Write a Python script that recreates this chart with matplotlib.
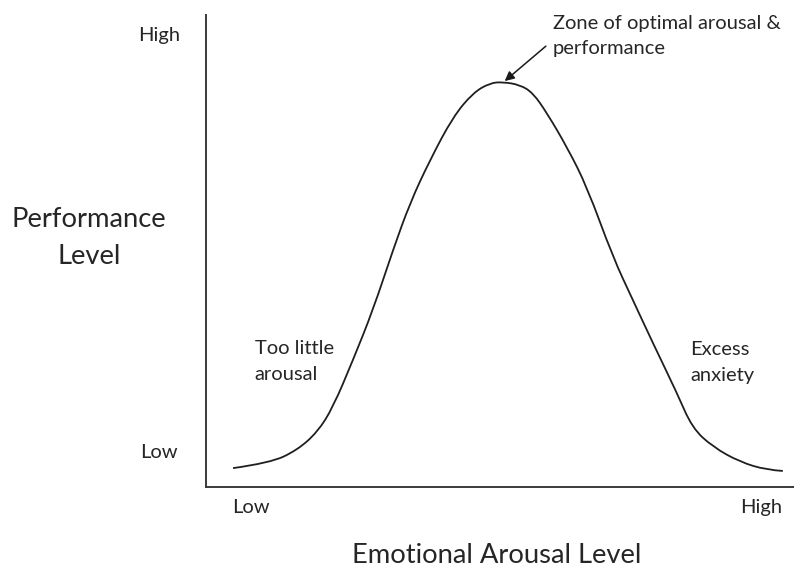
import matplotlib
matplotlib.use("Agg")
import matplotlib.pyplot as plt
from matplotlib.path import Path
from matplotlib.patches import PathPatch

# Curve (x: arousal 0-100, y: performance 0-100)
arousal = [4.6, 10.9, 15.5, 19.0, 21.6, 25.0, 28.4, 31.8, 34.7, 38.1, 42.0, 45.4,
           48.3, 50.5, 53.4, 55.6, 58.0, 61.4, 64.8, 69.2, 72.6, 76.0, 80.1, 82.7,
           86.2, 90.8, 95.4, 98.1]
performance = [4.0, 5.1, 7.8, 11.7, 16.9, 26.9, 37.5, 50.2, 60.2, 69.3, 78.4, 83.5,
               85.6, 85.8, 85.2, 83.5, 79.2, 72.0, 63.6, 48.7, 39.6, 30.5, 19.9, 12.5,
               8.5, 5.3, 3.6, 3.4]

x_tick_labels = ["Low", "High"]
y_tick_labels = ["Low", "High"]
x_label = "Emotional Arousal Level"
y_label = "Performance\nLevel"
left_note = "Too little\narousal"
right_note = "Excess\nanxiety"
peak_note = "Zone of optimal arousal &\nperformance"

plt.rcParams['font.family'] = ['Lato', 'DejaVu Sans']
TXT = '#262626'

fig = plt.figure(figsize=(7.94, 5.67), dpi=100)
ax = fig.add_axes([206/794, 80/567, 588/794, 472/567])
ax.set_xlim(0, 100)
ax.set_ylim(0, 100)

# smooth curve: the read points act as control points of a quadratic B-spline path
pts = list(zip(arousal, performance))
verts = [pts[0]]
codes = [Path.MOVETO]
for i in range(1, len(pts) - 1):
    mid = ((pts[i][0] + pts[i + 1][0]) / 2, (pts[i][1] + pts[i + 1][1]) / 2)
    if i == len(pts) - 2:
        mid = pts[-1]
    verts += [pts[i], mid]
    codes += [Path.CURVE3, Path.CURVE3]
ax.add_patch(PathPatch(Path(verts, codes), facecolor='none', edgecolor='#1f1f1f',
                       lw=1.3, transform=ax.transData))

for s in ['top', 'right']:
    ax.spines[s].set_visible(False)
for s in ['left', 'bottom']:
    ax.spines[s].set_color('#3a3a3a')
    ax.spines[s].set_linewidth(1.4)
ax.set_xticks([])
ax.set_yticks([])

fs = 14.5
ls = 1.6
# y-axis end labels
ax.text(-11.6, 95.7, y_tick_labels[1], fontsize=fs, color=TXT, ha='left', va='center')
ax.text(-11.2, 7.4, y_tick_labels[0], fontsize=fs, color=TXT, ha='left', va='center')
# x-axis end labels
ax.text(4.5, -4.4, x_tick_labels[0], fontsize=fs, color=TXT, ha='left', va='center')
ax.text(94.4, -4.4, x_tick_labels[1], fontsize=fs, color=TXT, ha='center', va='center')

# axis titles
ax.text(49.4, -14.6, x_label, fontsize=19.7, color=TXT, ha='center', va='center')
ax.text(-19.9, 52.8, y_label, fontsize=19.7, color=TXT, ha='center', va='center',
        linespacing=1.62)

# notes
ax.text(8.3, 26.6, left_note, fontsize=fs, color=TXT, ha='left', va='center', linespacing=ls)
ax.text(82.3, 26.4, right_note, fontsize=fs, color=TXT, ha='left', va='center', linespacing=ls)
ax.text(59.0, 95.5, peak_note, fontsize=fs, color=TXT, ha='left', va='center', linespacing=ls)

ax.annotate('', xy=(50.8, 86.0), xytext=(57.8, 93.4),
            arrowprops=dict(arrowstyle='-|>', color='#1a1a1a', lw=1.1,
                            mutation_scale=14, shrinkA=0, shrinkB=0))

fig.savefig('out.png', dpi=100)
